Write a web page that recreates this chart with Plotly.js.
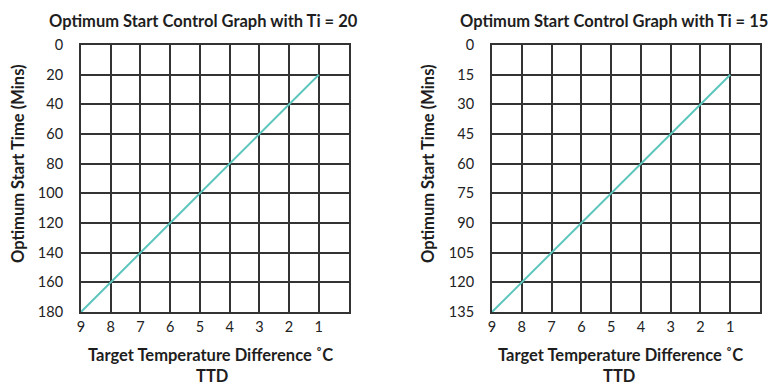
<!DOCTYPE html>
<html><head><meta charset="utf-8">
<script src="https://cdn.plot.ly/plotly-3.0.1.min.js"></script>
<style>html,body{margin:0;padding:0;background:#fff;}#chart{width:783px;height:389px;}</style>
</head><body><div id="chart"></div>
<script>
const ttd = [9, 8, 7, 6, 5, 4, 3, 2, 1];
const startTi20 = [180, 160, 140, 120, 100, 80, 60, 40, 20];
const startTi15 = [135, 120, 105, 90, 75, 60, 45, 30, 15];
const yTicks20 = [0, 20, 40, 60, 80, 100, 120, 140, 160, 180];
const yTicks15 = [0, 15, 30, 45, 60, 75, 90, 105, 120, 135];
const titles = ["Optimum Start Control Graph with Ti = 20", "Optimum Start Control Graph with Ti = 15"];
const xTitle = "Target Temperature Difference ˚C";
const xSub = "TTD";
const yTitle = "Optimum Start Time (Mins)";

const FONT = "Lato, 'Open Sans', sans-serif";
const lineColor = "#5cc6bd";
const gridColor = "#333333";

const traces = [
  {x: ttd, y: startTi20, type: "scatter", mode: "lines", line: {color: lineColor, width: 2}, xaxis: "x", yaxis: "y", hoverinfo: "skip"},
  {x: ttd, y: startTi15, type: "scatter", mode: "lines", line: {color: lineColor, width: 2}, xaxis: "x2", yaxis: "y2", hoverinfo: "skip"}
];

function xax(dom, anchor) {
  return {domain: dom, anchor: anchor, range: [9, 0], tickvals: ttd, ticktext: ttd.map(String),
    showgrid: true, gridcolor: gridColor, gridwidth: 2, zeroline: false,
    showline: true, mirror: true, linecolor: gridColor, linewidth: 2, ticks: "", ticklabelstandoff: 1,
    tickfont: {family: FONT, size: 14.5, color: "#222"}, fixedrange: true};
}
function yax(dom, anchor, ticks) {
  return {domain: dom, anchor: anchor, range: [ticks[ticks.length - 1], 0], tickvals: ticks,
    showgrid: true, gridcolor: gridColor, gridwidth: 2, zeroline: false,
    showline: true, mirror: true, linecolor: gridColor, linewidth: 2, ticks: "", ticklabelstandoff: 13,
    tickfont: {family: FONT, size: 14.5, color: "#222"}, fixedrange: true};
}

const yDom = [(389 - 312) / 389, (389 - 45) / 389];
const layout = {
  width: 783, height: 389, margin: {l: 0, r: 0, t: 0, b: 0},
  paper_bgcolor: "#fff", plot_bgcolor: "#fff", showlegend: false,
  xaxis: xax([81 / 783, 348.5 / 783], "y"),
  yaxis: yax(yDom, "x", yTicks20),
  xaxis2: xax([492 / 783, 760 / 783], "y2"),
  yaxis2: yax(yDom, "x2", yTicks15),
  annotations: [
    {text: "<b>" + titles[0] + "</b>", x: 204, y: 21, s: 16.5},
    {text: "<b>" + titles[1] + "</b>", x: 614, y: 21, s: 16.5},
    {text: "<b>" + xTitle + "</b>", x: 211, y: 355, s: 16.5},
    {text: "<b>" + xSub + "</b>", x: 212, y: 376, s: 16.5},
    {text: "<b>" + xTitle + "</b>", x: 620, y: 355, s: 16.5},
    {text: "<b>" + xSub + "</b>", x: 619, y: 376, s: 16.5},
    {text: "<b>" + yTitle + "</b>", x: 18, y: 164, textangle: -90, s: 16.5},
    {text: "<b>" + yTitle + "</b>", x: 428, y: 164, textangle: -90, s: 16.5}
  ].map(a => {
    const o = Object.assign({
      xref: "paper", yref: "paper", showarrow: false, xanchor: "center", yanchor: "middle",
      font: {family: FONT, size: a.s, color: "#1e1e1e"}
    }, a, {x: a.x / 783, y: 1 - a.y / 389});
    delete o.s;
    return o;
  })
};

Plotly.newPlot("chart", traces, layout, {displayModeBar: false, staticPlot: true});
</script></body></html>
